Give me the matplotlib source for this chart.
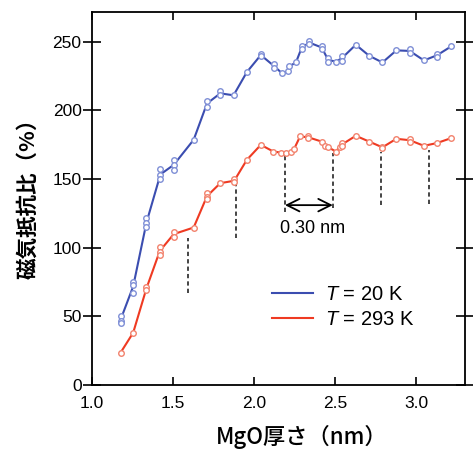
import numpy as np
import matplotlib
matplotlib.use("Agg")
import matplotlib.pyplot as plt

plt.rcParams['font.family'] = ['Liberation Sans', 'Noto Sans CJK JP', 'DejaVu Sans']
plt.rcParams['mathtext.fontset'] = 'custom'
plt.rcParams['mathtext.rm'] = 'Liberation Sans'
plt.rcParams['mathtext.it'] = 'Liberation Sans:italic'

# ---- data ----
blue_x = [1.176, 1.176, 1.176, 1.254, 1.254, 1.254, 1.336, 1.336, 1.336,
          1.422, 1.422, 1.422, 1.504, 1.504, 1.504, 1.627, 1.709, 1.709,
          1.791, 1.791, 1.873, 1.955, 2.041, 2.041, 2.123, 2.123, 2.170,
          2.211, 2.217, 2.258, 2.293, 2.293, 2.340, 2.340, 2.416, 2.416,
          2.457, 2.457, 2.504, 2.539, 2.539, 2.627, 2.709, 2.791, 2.877,
          2.959, 2.959, 3.047, 3.127, 3.127, 3.215]
blue_y = [50.5, 46.9, 45.0, 75.3, 72.9, 67.3, 121.9, 118.3, 114.9,
          157.2, 153.0, 150.0, 164.0, 160.3, 156.7, 178.6, 207.2, 202.8,
          213.8, 211.0, 211.0, 227.9, 241.3, 239.3, 233.7, 230.8, 227.2,
          228.4, 232.0, 235.0, 246.6, 244.6, 250.2, 248.5, 247.1, 244.6,
          238.1, 235.2, 235.6, 239.3, 236.3, 247.8, 239.8, 234.9, 243.7,
          244.7, 241.9, 236.4, 241.3, 238.9, 246.6]

red_x = [1.176, 1.254, 1.336, 1.336, 1.418, 1.418, 1.418, 1.504, 1.504,
         1.627, 1.709, 1.709, 1.709, 1.791, 1.877, 1.877, 1.955, 2.041,
         2.119, 2.164, 2.197, 2.230, 2.246, 2.283, 2.334, 2.334, 2.416,
         2.436, 2.457, 2.504, 2.529, 2.539, 2.539, 2.627, 2.709, 2.791,
         2.791, 2.877, 2.959, 2.959, 3.047, 3.127, 3.215]
red_y = [23.5, 38.1, 71.7, 69.2, 100.8, 97.2, 94.8, 111.7, 108.1,
         114.7, 139.7, 137.2, 135.6, 147.0, 149.9, 147.6, 164.0, 174.9,
         170.0, 169.3, 169.3, 170.0, 171.8, 181.0, 181.0, 179.8, 177.3,
         174.2, 173.2, 170.0, 173.7, 176.2, 173.8, 181.5, 177.3, 173.7,
         172.5, 179.3, 179.3, 177.3, 174.2, 176.2, 179.8]

dash_x = [1.59, 1.89, 2.19, 2.485, 2.785, 3.08]
dash_top = [107, 146, 167, 169, 170, 171]
dash_bottom = [67, 107, 126, 129, 131, 132]

arrow_x = [2.19, 2.485]
arrow_y = 131
arrow_label = "0.30 nm"

xticks = [1.0, 1.5, 2.0, 2.5, 3.0]
yticks = [0, 50, 100, 150, 200, 250]
series_labels = ["$T$ = 20 K", "$T$ = 293 K"]

BLUE_LINE = '#3b4db0'
BLUE_MK = '#7f8fd6'
RED_LINE = '#ef3a22'
RED_MK = '#f2826d'


def group_mean(xs, ys):
    xs = np.asarray(xs); ys = np.asarray(ys)
    ux = np.unique(xs)
    return ux, np.array([ys[xs == u].mean() for u in ux])


fig = plt.figure(figsize=(4.73, 4.50), dpi=100)
ax = fig.add_axes([0.1945, 0.1444, 0.7885, 0.830])

bx, by = group_mean(blue_x, blue_y)
rx, ry = group_mean(red_x, red_y)

ax.plot(bx, by, color=BLUE_LINE, lw=1.5, label=series_labels[0], zorder=3)
ax.plot(rx, ry, color=RED_LINE, lw=1.5, label=series_labels[1], zorder=3)
ax.plot(blue_x, blue_y, 'o', ms=4.0, mfc='white', mec=BLUE_MK, mew=1.0, zorder=4)
ax.plot(red_x, red_y, 'o', ms=4.0, mfc='white', mec=RED_MK, mew=1.0, zorder=4)

ax.vlines(dash_x, dash_bottom, dash_top, colors='#444444', linestyles=(0, (2.2, 1.6)), lw=1.4)

ax.annotate('', xy=(arrow_x[0], arrow_y), xytext=(arrow_x[1], arrow_y),
            arrowprops=dict(arrowstyle='<->,head_length=0.9,head_width=0.45',
                            color='black', lw=1.3, shrinkA=0, shrinkB=0))
ax.text(np.mean(arrow_x) + 0.025, 114, arrow_label, ha='center', va='center', fontsize=13)

ax.set_xlim(1.0, 3.3)
ax.set_ylim(0, 272)
ax.set_xticks(xticks)
ax.set_xticklabels([f"{t:.1f}" for t in xticks])
ax.set_yticks(yticks)

ax.tick_params(axis='x', which='both', direction='in', top=True, length=6, width=1.2,
               labelsize=12.5, pad=8, colors='black')
ax.tick_params(axis='y', which='both', direction='inout', right=True, length=13, width=1.2,
               labelsize=12.5, pad=1)
for s in ax.spines.values():
    s.set_linewidth(1.3)

ax.set_xlabel('MgO厚さ（nm）', family=['Noto Sans CJK JP'], fontsize=16,
              fontweight='medium', va='center', ha='center')
ax.xaxis.set_label_coords(0.5617, -0.138)
ax.set_ylabel('磁気抵抗比（%）', family=['Noto Sans CJK JP'], fontsize=15.5,
              fontweight='bold', va='center', ha='center')
ax.yaxis.set_label_coords(-0.1716, 0.514)

leg = ax.legend(loc='upper left', bbox_to_anchor=(0.482, 0.267), frameon=False,
                fontsize=14.5, handlelength=2.05, handletextpad=0.6,
                borderpad=0, borderaxespad=0, labelspacing=0.3)
for line in leg.get_lines():
    line.set_linewidth(1.5)

fig.savefig('out.png', dpi=100)
